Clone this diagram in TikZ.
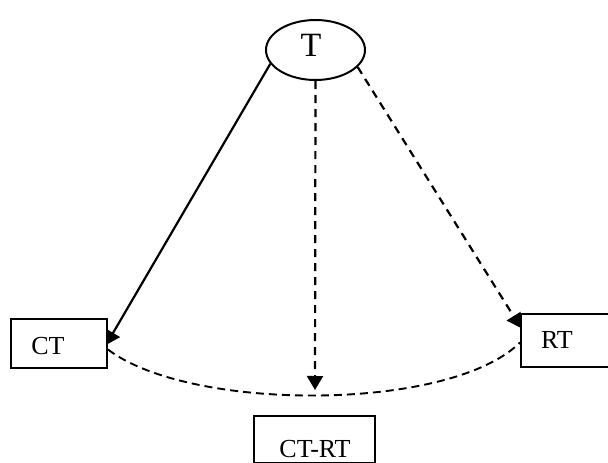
\documentclass[tikz,border=0pt]{standalone}
\usepackage{fontspec}
\setmainfont{Liberation Serif}
\usetikzlibrary{arrows.meta,shapes.geometric}
\begin{document}
\begin{tikzpicture}[x=1pt,y=-1pt,
  every node/.style={inner sep=0pt},
  conn/.style={line width=2.2pt,-{Triangle[length=14pt,width=16pt]}},
  dashconn/.style={conn,dash pattern=on 8pt off 6pt},
  curve/.style={line width=1.9pt,dash pattern=on 8pt off 5pt},
  box/.style={draw,line width=2pt,fill=white,rectangle},
  lbl/.style={font=\fontsize{26}{30}\selectfont}]
\useasboundingbox (0,0) rectangle (608,463);
% top ellipse
\node[draw,ellipse,line width=2pt,minimum width=99pt,minimum height=60pt] (t) at (315.5,50) {};
\node[font=\fontsize{34}{38}\selectfont] (tl) at (311,45) {T};
% arrow end points
\coordinate (ctin) at (106,345);
\coordinate (rtin) at (521,328);
\coordinate (mid) at (315,390);
% connectors
\draw[conn] (t.197) -- (ctin);
\draw[dashconn] (t.south) -- (mid);
\draw[dashconn] (t.338) -- (rtin);
% boxes
\node[box,minimum width=96pt,minimum height=49pt] (ct) at (59,343.5) {};
\node[box,minimum width=88pt,minimum height=53pt] (rt) at (565,340.5) {};
\node[box,minimum width=121pt,minimum height=47pt] (ctrt) at (314.5,439.5) {};
% dashed arc between the side boxes
\draw[curve] ([yshift=-6pt]ct.east) .. controls (190,412) and (450,412) .. ([yshift=-2pt]rt.west);
% labels
\node[lbl] (ctl) at (48,346) {CT};
\node[lbl] (rtl) at (557,340) {RT};
\node[lbl] (ctrtl) at (315,449) {CT-RT};
\end{tikzpicture}
\end{document}
